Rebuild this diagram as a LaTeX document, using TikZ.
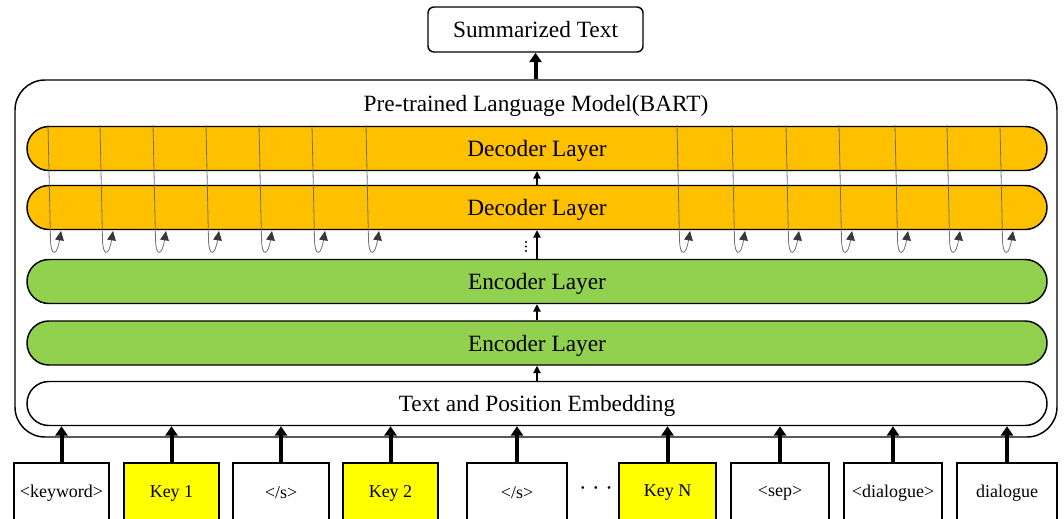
\documentclass[tikz,border=0pt]{standalone}
\usepackage{fontspec}
\setmainfont{Liberation Serif}
\usetikzlibrary{arrows.meta}
\definecolor{decfill}{HTML}{FFC000}
\definecolor{encfill}{HTML}{92D050}
\definecolor{keyfill}{HTML}{FFFF00}
\definecolor{curlgray}{HTML}{707070}
\definecolor{tipgray}{HTML}{383838}
\begin{document}
\begin{tikzpicture}[x=0.75pt,y=-0.75pt,
  bigfont/.style={font=\fontsize{17.5}{21}\selectfont},
  smallfont/.style={font=\fontsize{13.5}{16}\selectfont},
  layer/.style={draw, line width=1.1pt, rounded corners=16.4pt, minimum width=765pt, minimum height=33pt, inner sep=0pt, bigfont, text height=13.85pt, text depth=1.55pt},
  declayer/.style={layer, fill=decfill},
  enclayer/.style={layer, fill=encfill},
  outerbox/.style={draw, line width=1.1pt, rounded corners=22.5pt, minimum width=781.5pt, minimum height=267.75pt, inner sep=0pt},
  sumbox/.style={draw, line width=1.1pt, rounded corners=4.5pt, minimum width=161.25pt, minimum height=33.75pt, inner sep=0pt, bigfont, text height=14pt, text depth=1.5pt},
  inbox/.style={draw, line width=1.1pt, minimum height=45pt, inner sep=0pt, smallfont},
  keybox/.style={inbox, fill=keyfill},
  thickarrow/.style={line width=3pt, -{Triangle[width=9pt,length=7pt]}},
  thinarrow/.style={line width=0.9pt, -{Triangle[width=5.5pt,length=5.5pt]}},
  curl/.style={draw=curlgray, line width=0.6pt, -{Triangle[width=6.5pt,length=7pt,color=tipgray]}},
  dotmark/.style={fill=black, circle, inner sep=0pt, minimum size=1.6pt}
]
\useasboundingbox (0,0) rectangle (1064,518);
\clip (0,0) rectangle (1064,518);

% outer model box and title
\node[outerbox] (outer) at (536,258.5) {};
\node[bigfont] (title) at (536,106) {Pre-trained Language Model(BART)};

% output
\node[sumbox] (summ) at (535.5,29.5) {Summarized Text};

% layers
\node[declayer] (dec1) at (537,148.5) {Decoder Layer};
\node[declayer] (dec2) at (537,207.5) {Decoder Layer};
\node[enclayer] (enc1) at (537,281.5) {Encoder Layer};
\node[enclayer] (enc2) at (537,343) {Encoder Layer};
\node[layer] (emb) at (537,403.5) {Text and Position Embedding};

% curls over decoder layers
\foreach \x in {48,100,153,206,259,312,366,677,732,786,839,895,947,1000}{
  \draw[curl] (\x,125) -- (\x+2.5,240) .. controls (\x+3,257) and (\x+9,256) .. (\x+13,231);
}

% arrows between layers
\draw[thickarrow] (outer.north -| summ.south) -- (summ.south);
\draw[thinarrow] (dec2.north) -- (dec1.south);
\draw[thinarrow] (enc1.north) -- (dec2.south);
\node[dotmark] (vd1) at (526,242) {};
\node[dotmark] (vd2) at (526,246.5) {};
\node[dotmark] (vd3) at (526,251) {};
\draw[thinarrow] (enc2.north) -- (enc1.south);
\draw[thinarrow] (emb.north) -- (enc2.south);

% inputs
\node[inbox, minimum width=71.25pt] (i1) at (61.5,493) {<keyword>};
\node[keybox, minimum width=71.25pt] (i2) at (171.5,493) {Key 1};
\node[inbox, minimum width=72pt] (i3) at (281,493) {</s>};
\node[keybox, minimum width=71.25pt] (i4) at (390.5,493) {Key 2};
\node[inbox, minimum width=75pt] (i5) at (517,493) {</s>};
\node[font=\fontsize{17}{18}\selectfont, inner sep=0pt] (dots) at (596,491) {· · ·};
\node[keybox, minimum width=72.75pt] (i6) at (667.5,493) {Key N};
\node[inbox, minimum width=73.5pt] (i7) at (780,493) {<sep>};
\node[inbox, minimum width=73.5pt] (i8) at (893,493) {<dialogue>};
\node[inbox, minimum width=75pt] (i9) at (1007,493) {dialogue};

\foreach \n in {i1,i2,i3,i4,i5,i6,i7,i8,i9}{
  \draw[thickarrow] (\n.north) -- (\n.north |- emb.south);
}
\end{tikzpicture}
\end{document}
